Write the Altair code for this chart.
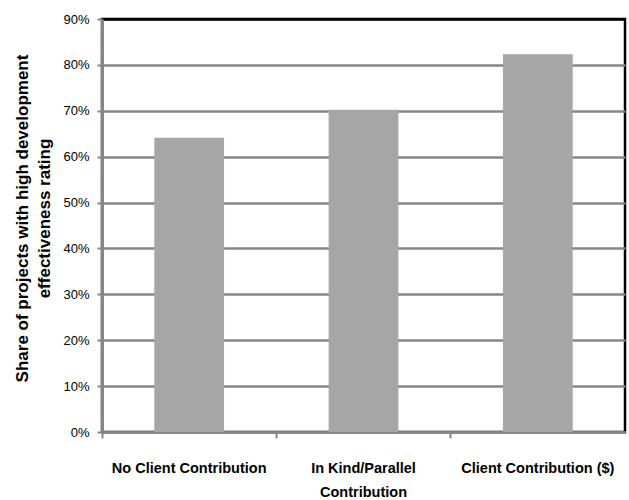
import altair as alt
import pandas as pd

categories = ["No Client Contribution", "In Kind/Parallel Contribution", "Client Contribution ($)"]
shares = [0.641, 0.702, 0.823]
y_ticks = [0.0, 0.1, 0.2, 0.3, 0.4, 0.5, 0.6, 0.7, 0.8, 0.9]

df = pd.DataFrame({"category": categories, "share": shares})

SANS = "Liberation Sans, Arial, sans-serif"
GRID = "#868686"

bars = alt.Chart(df).mark_bar(
    color="#a6a6a6", width=alt.RelativeBandSize(0.4)
).encode(
    x=alt.X(
        "category:N",
        sort=categories,
        scale=alt.Scale(paddingInner=0, paddingOuter=0),
        axis=alt.Axis(
            title=None,
            labelAngle=0,
            bandPosition=0,
            labelFont=SANS,
            labelFontSize=14.5,
            labelFontWeight="bold",
            labelColor="black",
            labelBaseline="alphabetic",
            labelPadding=34,
            labelLineHeight=24,
            labelLimit=0,
            labelExpr="datum.value == 'In Kind/Parallel Contribution' ? ['In Kind/Parallel', 'Contribution'] : datum.value",
            domainColor=GRID,
            domainWidth=2.5,
            tickColor=GRID,
            tickWidth=2,
            tickSize=6,
            grid=False,
        ),
    ),
    y=alt.Y(
        "share:Q",
        scale=alt.Scale(domain=[0, 0.9], nice=False),
        axis=alt.Axis(
            values=y_ticks,
            format=".0%",
            title=["Share of projects with high development", "effectiveness rating"],
            titleFont=SANS,
            titleFontSize=17,
            titleFontWeight="bold",
            titleColor="black",
            titleAngle=-90,
            titleAlign="center",
            titleBaseline="alphabetic",
            titleX=-75,
            titleY=199,
            titleLineHeight=22,
            labelFont=SANS,
            labelFontSize=13,
            labelColor="black",
            labelPadding=8,
            domainColor=GRID,
            domainWidth=3,
            tickColor=GRID,
            tickWidth=2,
            tickSize=5,
            grid=True,
            gridColor={"condition": {"test": "datum.value > 0.85", "value": "black"}, "value": GRID},
            gridWidth=2.5,
        ),
    ),
)

chart = bars.properties(
    width=523,
    height=413,
    padding={"left": 102, "top": 19, "right": 4, "bottom": 68},
    autosize=alt.AutoSizeParams(type="none"),
    background="white",
).configure_view(
    stroke="black",
    strokeWidth=2.5,
)

chart.save("out.html", embed_options={"renderer": "svg", "actions": False})
